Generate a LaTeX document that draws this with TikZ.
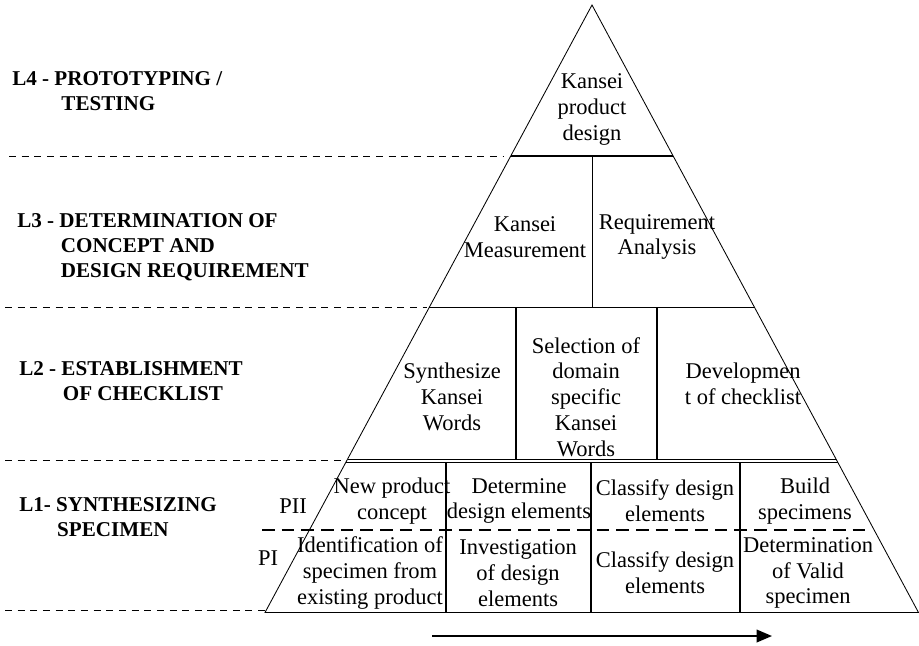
\documentclass[tikz,border=0pt]{standalone}
\usepackage{fontspec}
\setmainfont{Liberation Serif}
\usetikzlibrary{arrows.meta}

\begin{document}
\begin{tikzpicture}[x=0.025cm,y=-0.025cm,>={Triangle[length=11pt,width=9pt]},
  cell/.style={align=center,inner sep=0pt,font=\fontsize{16}{18.4}\selectfont},
  lvl/.style={align=left,anchor=west,inner sep=0pt,font=\fontsize{15}{17.7}\selectfont\bfseries},
  bar/.style={line width=1pt},
  guide/.style={dash pattern=on 5pt off 4pt,line width=0.7pt}]
\useasboundingbox (0,0) rectangle (919,645);
\def\k{0.5374}
% pyramid outline
\coordinate (apex) at (592,5); \coordinate (bl) at (265,612.5); \coordinate (br) at (918.5,612.5);
\draw[line width=0.6pt] (bl) -- (apex) -- (br) -- cycle;
% level bars and cell dividers
\foreach \y in {156,307.5,459.5,462.5} { \draw[bar] ({592-\k*(\y-5)},\y) -- ({592+\k*(\y-5)},\y); }
\draw[bar] (592.5,156) -- (592.5,307.5);
\foreach \x in {516,657} { \draw[bar] (\x,307.5) -- (\x,459.5); }
\foreach \x in {446,591,740} { \draw[bar] (\x,462.5) -- (\x,612.5); }
\draw[line width=1.2pt,dash pattern=on 9pt off 5pt] (262,530) -- (872,530);
% level separators on the left
\draw[guide] (9,156) -- (503,156); \draw[guide] (5,307.5) -- (427,307.5);
\draw[guide] (5,460) -- (345,460); \draw[guide] (5,610) -- (265,610);
% level names
\node[lvl] (lfour) at (12,91) {L4 - PROTOTYPING /\\\hspace*{35pt}TESTING};
\node[lvl] (lthree) at (17,247) {L3 - DETERMINATION OF\\\hspace*{31pt}CONCEPT AND\\\hspace*{31pt}DESIGN REQUIREMENT};
\node[lvl] (ltwo) at (19,381) {L2 - ESTABLISHMENT\\\hspace*{31pt}OF CHECKLIST};
\node[lvl] (lone) at (19,517) {L1- SYNTHESIZING\\\hspace*{27pt}SPECIMEN};
\node[cell] (pii) at (293,506) {PII};
\node[cell] (pi) at (268,558) {PI};
% L4 and L3
\node[cell] (kpd) at (592,109.5) {Kansei\\product\\design};
\node[cell] (kmeas) at (525,237) {Kansei\\Measurement};
\node[cell] (reqan) at (657,237) {Requirement\\Analysis};
% L2
\node[cell] (synkw) at (452,397) {Synthesize\\Kansei\\Words};
\node[cell] (selkw) at (586,397) {Selection of\\domain\\specific\\Kansei\\Words};
\node[cell] (devcl) at (743,384) {Developmen\\t of checklist};
% L1, upper row (PII)
\node[cell] (npc) at (392,501) {New product\\concept};
\node[cell] (detde) at (519,501) {Determine\\design elements};
\node[cell] (clsdeb) at (665,501) {Classify design\\elements};
\node[cell] (bldsp) at (805,501) {Build\\specimens};
% L1, lower row (PI)
\node[cell] (idsp) at (370,573) {Identification of\\specimen from\\existing product};
\node[cell] (invde) at (518,573) {Investigation\\of design\\elements};
\node[cell] (clsdea) at (665,573) {Classify design\\elements};
\node[cell] (detvs) at (808,573) {Determination\\of Valid\\specimen};
% direction arrow
\coordinate (astart) at (432,636); \coordinate (aend) at (772,636);
\draw[->,line width=1.3pt] (astart) -- (aend);
\end{tikzpicture}
\end{document}
